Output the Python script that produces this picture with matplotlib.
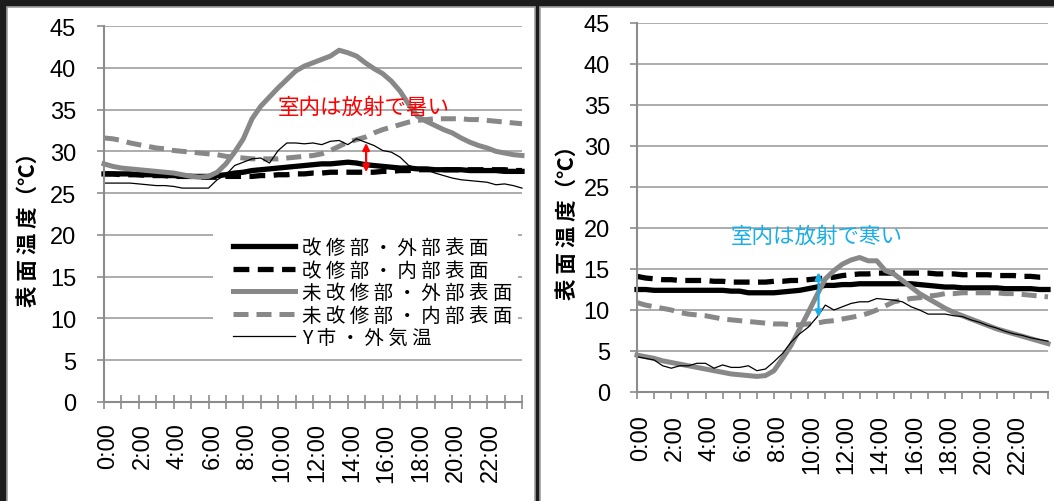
import numpy as np
import matplotlib
matplotlib.use("Agg")
import matplotlib.pyplot as plt
from matplotlib.patches import Rectangle
import matplotlib.transforms as mtransforms

plt.rcParams['font.family'] = ['Liberation Sans', 'Noto Sans CJK JP', 'DejaVu Sans']

# ---- data (half-hour readings, 0:00 .. 24:00) ----
hours = np.arange(0, 24.01, 0.5)
tick_labels = ["0:00", "2:00", "4:00", "6:00", "8:00", "10:00",
               "12:00", "14:00", "16:00", "18:00", "20:00", "22:00"]
series_names = ["改 修 部 ・ 外 部 表 面", "改 修 部 ・ 内 部 表 面",
                "未 改 修 部 ・ 外 部 表 面", "未 改 修 部 ・ 内 部 表 面",
                "Y 市 ・ 外 気 温"]

# summer (left)
L_ren_out = [27.3,27.3,27.3,27.3,27.2,27.2,27.2,27.1,27.1,27.0,
             27.0,27.0,27.0,27.1,27.2,27.4,27.5,27.7,27.8,27.9,
             28.0,28.1,28.2,28.3,28.4,28.5,28.5,28.6,28.7,28.6,
             28.4,28.3,28.2,28.1,28.0,28.0,27.9,27.9,27.8,27.8,
             27.8,27.8,27.7,27.7,27.7,27.7,27.6,27.6,27.6]
L_ren_in = [27.3,27.3,27.2,27.2,27.2,27.1,27.1,27.1,27.0,27.0,
            27.0,26.9,26.9,26.9,27.0,27.0,27.0,27.0,27.1,27.1,
            27.2,27.2,27.3,27.3,27.4,27.4,27.5,27.5,27.5,27.5,
            27.5,27.5,27.6,27.6,27.7,27.7,27.8,27.8,27.8,27.8,
            27.8,27.8,27.8,27.8,27.8,27.8,27.8,27.7,27.7]
L_old_out = [28.5,28.2,28.0,27.9,27.8,27.7,27.6,27.5,27.4,27.2,
             27.0,26.9,27.0,27.5,28.5,29.9,31.5,33.9,35.4,36.5,
             37.6,38.6,39.6,40.2,40.6,41.0,41.4,42.1,41.8,41.4,
             40.6,39.9,39.3,38.4,37.2,35.6,34.2,33.6,33.1,32.6,
             32.2,31.6,31.1,30.7,30.4,30.0,29.8,29.6,29.5]
L_old_in = [31.6,31.5,31.3,31.0,30.8,30.6,30.4,30.3,30.1,30.0,
            29.9,29.8,29.7,29.6,29.4,29.3,29.2,29.1,29.1,29.1,
            29.1,29.2,29.3,29.4,29.5,29.7,30.1,30.6,31.1,31.4,
            31.7,32.2,32.6,32.9,33.2,33.5,33.7,33.8,33.9,33.9,
            33.9,33.9,33.8,33.8,33.7,33.6,33.5,33.4,33.3]
L_air = [26.2,26.2,26.2,26.2,26.1,26.0,25.9,25.9,25.8,25.6,
         25.6,25.6,25.6,26.6,27.2,28.3,28.7,29.1,29.2,28.6,
         30.1,31.0,31.0,30.9,31.0,30.8,31.2,31.3,30.8,31.5,
         31.1,30.7,30.1,29.9,29.3,28.3,28.0,27.8,27.4,27.1,
         26.8,26.6,26.5,26.4,26.3,26.0,26.1,25.9,25.6]

# winter (right)
R_ren_out = [12.5,12.5,12.4,12.4,12.4,12.4,12.4,12.4,12.4,12.4,
             12.4,12.3,12.3,12.1,12.1,12.1,12.1,12.2,12.3,12.4,
             12.6,12.8,13.0,13.0,13.1,13.1,13.2,13.2,13.2,13.2,
             13.2,13.2,13.2,13.1,13.0,12.9,12.8,12.8,12.7,12.7,
             12.7,12.7,12.7,12.6,12.6,12.6,12.6,12.5,12.5]
R_ren_in = [14.1,13.9,13.8,13.7,13.7,13.6,13.6,13.6,13.6,13.5,
            13.5,13.4,13.4,13.4,13.4,13.4,13.5,13.5,13.6,13.6,
            13.7,13.8,13.9,14.0,14.2,14.3,14.4,14.4,14.5,14.5,
            14.5,14.5,14.5,14.5,14.5,14.4,14.4,14.4,14.3,14.3,
            14.3,14.3,14.2,14.2,14.2,14.1,14.1,14.0,14.0]
R_old_out = [4.5,4.3,4.1,3.8,3.6,3.4,3.2,3.0,2.8,2.6,
             2.4,2.2,2.1,2.0,1.9,2.0,2.6,4.1,5.7,7.7,
             9.7,11.8,13.8,14.8,15.6,16.1,16.4,16.0,16.0,14.8,
             14.4,13.6,12.8,12.0,11.4,10.8,10.2,9.7,9.3,8.9,
             8.5,8.1,7.7,7.4,7.1,6.8,6.5,6.2,5.9]
R_old_in = [10.9,10.6,10.4,10.2,10.0,9.7,9.5,9.4,9.3,9.1,
            8.9,8.8,8.7,8.6,8.5,8.4,8.3,8.3,8.2,8.2,
            8.3,8.4,8.6,8.7,8.9,9.1,9.3,9.6,10.0,10.5,
            11.0,11.2,11.4,11.5,11.7,11.8,12.0,12.0,12.1,12.1,
            12.1,12.1,12.1,12.0,12.0,11.9,11.8,11.7,11.6]
R_air = [4.3,4.1,3.9,3.2,2.9,3.2,3.2,3.5,3.5,2.9,
         3.3,3.0,3.0,3.2,2.6,2.8,3.7,4.7,6.1,7.1,
         7.9,9.1,10.6,10.0,10.4,10.8,11.0,11.0,11.4,11.3,
         11.2,11.0,10.4,10.0,9.5,9.5,9.5,9.3,9.2,8.8,
         8.5,8.1,7.8,7.4,7.1,6.9,6.6,6.4,6.2]

W, H = 1054, 502
BLACK = '#000000'
GRAY = '#888888'
GRID = '#a6a6a6'
AXC = '#8c8c8c'

styles = [dict(color=BLACK, lw=3.8, ls='-'),
          dict(color=BLACK, lw=3.8, ls=(0, (3, 1.6))),
          dict(color=GRAY, lw=3.6, ls='-'),
          dict(color=GRAY, lw=3.6, ls=(0, (3, 1.6))),
          dict(color=BLACK, lw=0.9, ls='-')]

fig = plt.figure(figsize=(W / 100, H / 100), dpi=100, facecolor='#1c1c1c')

def px_rect(x0, y0, x1, y1):
    return (x0 / W, 1 - y1 / H, (x1 - x0) / W, (y1 - y0) / H)

for (x0, y0, x1, y1) in [(7, 8, 535, 505), (540, 8, 1058, 505)]:
    l, b, w, h = px_rect(x0, y0, x1, y1)
    fig.add_artist(Rectangle((l, b), w, h, transform=fig.transFigure,
                             facecolor='white', edgecolor='#a0a0a0', lw=1.2, zorder=0))

axL = fig.add_axes(px_rect(104, 27, 522, 403))
axR = fig.add_axes(px_rect(637, 24, 1048, 393))

def style_axis(ax, xdir, xlen, ypad, xpad):
    ax.set_facecolor('none')
    ax.set_xlim(0, 24)
    ax.set_ylim(0, 45)
    ax.set_yticks(np.arange(0, 46, 5))
    ax.set_xticks(np.arange(0, 25, 1))
    labs = []
    for h in range(25):
        labs.append(tick_labels[h // 2] if (h % 2 == 0 and h < 24) else "")
    ax.set_xticklabels(labs, rotation=90, fontsize=17)
    ax.tick_params(axis='y', direction='out', length=5, width=1.2, color=AXC,
                   labelsize=17, pad=ypad)
    ax.tick_params(axis='x', direction=xdir, length=xlen, width=1.2, color=AXC,
                   pad=xpad)
    ax.grid(axis='y', color=GRID, lw=1.3)
    ax.grid(axis='x', visible=False)
    for s in ['top', 'right']:
        ax.spines[s].set_visible(False)
    for s in ['left', 'bottom']:
        ax.spines[s].set_color(AXC)
        ax.spines[s].set_linewidth(1.5)
    ax.set_axisbelow(True)
    offset = mtransforms.ScaledTranslation(4 / 100, 0, fig.dpi_scale_trans)
    for lab in ax.get_xticklabels():
        lab.set_transform(lab.get_transform() + offset)

style_axis(axL, 'inout', 9.5, 15, 10)
style_axis(axR, 'out', 5, 14.5, 11)

handles = []
for ax, data in [(axL, [L_ren_out, L_ren_in, L_old_out, L_old_in, L_air]),
                 (axR, [R_ren_out, R_ren_in, R_old_out, R_old_in, R_air])]:
    hs = []
    for name, vals, st in zip(series_names, data, styles):
        ln, = ax.plot(hours, vals, color=st['color'], lw=st['lw'], ls=st['ls'],
                      label=name, solid_joinstyle='round', clip_on=False)
        hs.append(ln)
    handles.append(hs)

# white legend background (covers gridlines like the original)
def ax_frac(ax_px, x, y):
    x0, y0, x1, y1 = ax_px
    return (x - x0) / (x1 - x0), (y1 - y) / (y1 - y0)

LPX = (104, 27, 522, 403)
bx0, by1 = ax_frac(LPX, 213, 228)
bx1, by0 = ax_frac(LPX, 518, 355)
axL.add_patch(Rectangle((bx0, by0), bx1 - bx0, by1 - by0, transform=axL.transAxes,
                        facecolor='white', edgecolor='none', zorder=1.5))

ax_x, ax_y = ax_frac(LPX, 233, 238)
leg = axL.legend(handles=handles[0], loc='upper left',
                 bbox_to_anchor=(ax_x, ax_y), frameon=False,
                 prop=dict(family=['Noto Sans CJK JP', 'DejaVu Sans'], size=14),
                 handlelength=3.2, handletextpad=0.36,
                 labelspacing=0.08, borderpad=0, borderaxespad=0)
leg.set_zorder(5)

# annotations
axL.text(14.9, 35.3, "室内は放射で暑い", color='#ff0000', fontsize=15.5,
         ha='center', va='center', family=['Noto Sans CJK JP'])
axL.annotate('', xy=(15.05, 31.0), xytext=(15.05, 27.5),
             arrowprops=dict(arrowstyle='<|-|>', color='#ff0000', lw=1.6,
                             mutation_scale=10, shrinkA=0, shrinkB=0))
axR.text(10.5, 19.0, "室内は放射で寒い", color='#1aaee8', fontsize=15.5,
         ha='center', va='center', family=['Noto Sans CJK JP'])
axR.annotate('', xy=(10.6, 14.6), xytext=(10.6, 9.1),
             arrowprops=dict(arrowstyle='<|-|>', color='#1aaee8', lw=1.6,
                             mutation_scale=10, shrinkA=0, shrinkB=0))

# y-axis labels
for (cx, cy) in [(28, 224), (567, 217)]:
    fig.text(cx / W, 1 - cy / H, "表 面 温 度（℃）", rotation=90, fontsize=15.5,
             fontweight='bold', ha='center', va='center',
             family=['Noto Sans CJK JP', 'DejaVu Sans'])

fig.savefig("out.png", dpi=100, facecolor=fig.get_facecolor())
